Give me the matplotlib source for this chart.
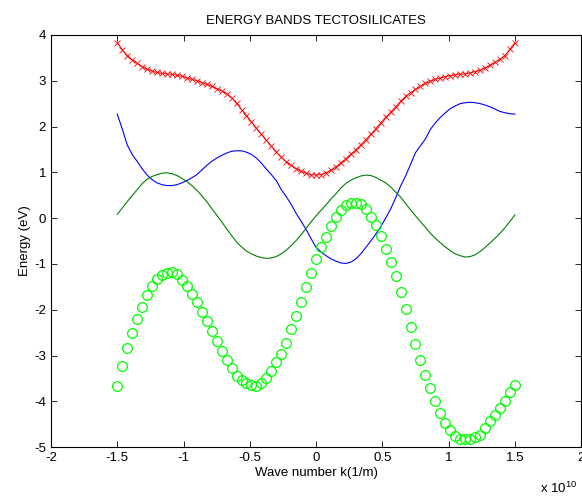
import numpy as np
import matplotlib
matplotlib.use("Agg")
import matplotlib.pyplot as plt

# wave number grid, in units of 1e10 1/m (81 samples from -1.5 to 1.5)
k = np.linspace(-1.5, 1.5, 81)

# band energies (eV)
band_red = [3.83, 3.68, 3.55, 3.46, 3.38, 3.31, 3.25, 3.21, 3.18, 3.16,
            3.15, 3.14, 3.12, 3.10, 3.06, 3.03, 3.00, 2.96, 2.92, 2.88,
            2.83, 2.78, 2.72, 2.63, 2.51, 2.37, 2.24, 2.10, 1.96, 1.83,
            1.70, 1.57, 1.44, 1.33, 1.23, 1.15, 1.08, 1.02, 0.98, 0.95,
            0.94,
            0.95, 0.99, 1.05, 1.12, 1.21, 1.30, 1.40, 1.49, 1.60, 1.71,
            1.83, 1.95, 2.08, 2.20, 2.31, 2.43, 2.55, 2.66, 2.74, 2.81,
            2.88, 2.94, 2.99, 3.03, 3.06, 3.09, 3.11, 3.13, 3.14, 3.15,
            3.17, 3.20, 3.23, 3.28, 3.34, 3.40, 3.47, 3.55, 3.69, 3.83]

band_blue = [2.27, 1.95, 1.60, 1.39, 1.24, 1.08, 0.94, 0.84, 0.77, 0.73,
             0.71, 0.71, 0.73, 0.77, 0.82, 0.88, 0.95, 1.05, 1.15, 1.24,
             1.31, 1.37, 1.42, 1.46, 1.47, 1.47, 1.44, 1.39, 1.31, 1.20,
             1.07, 0.95, 0.82, 0.62, 0.47, 0.30, 0.10, -0.07, -0.25, -0.45,
             -0.64,
             -0.74, -0.82, -0.89, -0.94, -0.98, -0.99, -0.96, -0.89, -0.78, -0.64,
             -0.50, -0.35, -0.19, 0.00, 0.20, 0.44, 0.70, 0.92, 1.17, 1.43,
             1.58, 1.73, 1.94, 2.08, 2.20, 2.30, 2.39, 2.45, 2.50, 2.52,
             2.53, 2.52, 2.50, 2.47, 2.43, 2.38, 2.33, 2.30, 2.28, 2.27]

band_green = [0.08, 0.22, 0.36, 0.49, 0.62, 0.75, 0.85, 0.91, 0.95, 0.98,
              0.99, 0.97, 0.93, 0.87, 0.80, 0.71, 0.61, 0.49, 0.36, 0.21,
              0.07, -0.08, -0.23, -0.38, -0.52, -0.63, -0.72, -0.78, -0.83, -0.86,
              -0.88, -0.87, -0.84, -0.78, -0.70, -0.60, -0.49, -0.36, -0.22, -0.08,
              0.05,
              0.17, 0.29, 0.42, 0.53, 0.66, 0.76, 0.83, 0.88, 0.92, 0.94,
              0.93, 0.89, 0.83, 0.77, 0.68, 0.57, 0.46, 0.32, 0.18, 0.05,
              -0.08, -0.20, -0.33, -0.44, -0.54, -0.63, -0.71, -0.78, -0.82, -0.85,
              -0.84, -0.80, -0.73, -0.64, -0.54, -0.44, -0.33, -0.21, -0.07, 0.07]

band_lime = [-3.66, -3.23, -2.83, -2.50, -2.21, -1.93, -1.68, -1.48, -1.32, -1.24,
             -1.19, -1.17, -1.23, -1.35, -1.48, -1.65, -1.84, -2.06, -2.25, -2.47,
             -2.69, -2.91, -3.10, -3.28, -3.44, -3.54, -3.61, -3.65, -3.66, -3.61,
             -3.50, -3.34, -3.15, -2.96, -2.72, -2.43, -2.14, -1.84, -1.51, -1.20,
             -0.90,
             -0.64, -0.41, -0.18, 0.02, 0.18, 0.28, 0.33, 0.34, 0.30, 0.19,
             0.03, -0.16, -0.40, -0.68, -0.95, -1.27, -1.62, -1.99, -2.37, -2.74,
             -3.09, -3.42, -3.71, -3.99, -4.25, -4.47, -4.63, -4.76, -4.82, -4.83,
             -4.83, -4.78, -4.73, -4.59, -4.44, -4.29, -4.14, -3.99, -3.79, -3.65]

plt.rcParams['font.family'] = ['Liberation Sans', 'DejaVu Sans']
plt.rcParams['font.size'] = 9.5
plt.rcParams['mathtext.fontset'] = 'custom'
plt.rcParams['mathtext.rm'] = 'Liberation Sans'

fig = plt.figure(figsize=(5.82, 4.99), dpi=100)
ax = fig.add_axes([0.0876, 0.104, 0.911, 0.826])

ax.plot(k, band_red, '-x', color=(1, 0, 0), lw=0.7, markersize=4.5, mew=0.6)
ax.plot(k, band_blue, '-', color=(0, 0, 1), lw=0.8)
ax.plot(k, band_green, '-', color=(0, 0.5, 0), lw=0.8)
ax.plot(k, band_lime, 'o', color=(0, 1, 0), markersize=7, mfc='none', mew=0.9)

ax.set_xlim(-2, 2)
ax.set_ylim(-5, 4)
ax.set_xticks([-2, -1.5, -1, -0.5, 0, 0.5, 1, 1.5, 2])
ax.set_xticklabels(['-2', '-1.5', '-1', '-0.5', '0', '0.5', '1', '1.5', '2'])
ax.set_yticks(range(-5, 5))
ax.set_yticklabels([str(v) for v in range(-5, 5)])
ax.tick_params(direction='in', top=True, right=True, length=4, width=0.6)
for s in ax.spines.values():
    s.set_linewidth(0.8)

ax.set_title('ENERGY BANDS TECTOSILICATES', fontsize=9.5, pad=8)
ax.set_xlabel('Wave number k(1/m)', labelpad=2)
ax.set_ylabel('Energy (eV)', labelpad=2)
fig.text(0.927, 0.012, r'x 10$^{10}$', fontsize=9.5)

fig.savefig('out.png', dpi=100)
